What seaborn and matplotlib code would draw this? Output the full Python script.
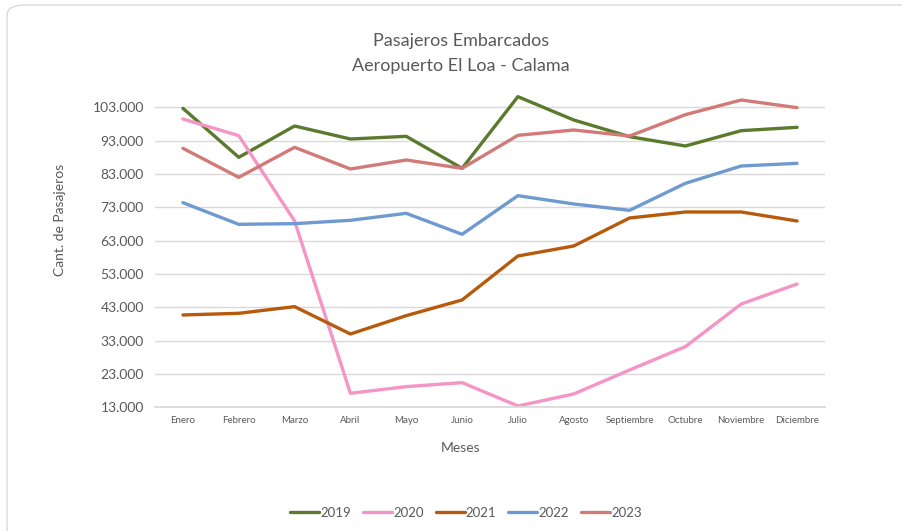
import pandas as pd
import seaborn as sns
import matplotlib.pyplot as plt
from matplotlib.patches import FancyBboxPatch
from matplotlib.ticker import FuncFormatter

# Monthly boarded passengers
meses = ['Enero', 'Febrero', 'Marzo', 'Abril', 'Mayo', 'Junio', 'Julio',
         'Agosto', 'Septiembre', 'Octubre', 'Noviembre', 'Diciembre']
y2019 = [102700, 88000, 97400, 93500, 94300, 84700, 106200, 99200, 94200, 91400, 96000, 97000]
y2020 = [99500, 94500, 68900, 17200, 19200, 20400, 13400, 17000, 24200, 31200, 44000, 50000]
y2021 = [40700, 41200, 43200, 35000, 40500, 45200, 58400, 61400, 69800, 71600, 71600, 68900]
y2022 = [74400, 67900, 68100, 69100, 71200, 64900, 76500, 74000, 72100, 80200, 85400, 86200]
y2023 = [90700, 82000, 91000, 84500, 87200, 84700, 94600, 96200, 94400, 100800, 105200, 102900]
years = ['2019', '2020', '2021', '2022', '2023']
colores = ['#5B7A2E', '#F495C5', '#B85A0B', '#6F9AD0', '#D27A78']

df = pd.DataFrame({'Mes': meses, '2019': y2019, '2020': y2020, '2021': y2021,
                   '2022': y2022, '2023': y2023})
df_long = df.melt(id_vars='Mes', var_name='Año', value_name='Pasajeros')
df_long['pos'] = df_long['Mes'].map({m: i for i, m in enumerate(meses)})

sns.set_theme(style="white")
plt.rcParams['font.family'] = ['Lato', 'DejaVu Sans']
gris = '#595959'

fig = plt.figure(figsize=(9.02, 5.31), dpi=100)
ax = fig.add_axes([155 / 902, 1 - 407.3 / 531, 670 / 902, (407.3 - 92) / 531])

sns.lineplot(data=df_long, x='pos', y='Pasajeros', hue='Año', hue_order=years,
             palette=colores, linewidth=2.4, ax=ax, legend=True, sort=False)

ax.set_xlim(-0.5, 11.5)
ax.set_ylim(13000, 107600)
ax.set_yticks(range(13000, 104000, 10000))
ax.yaxis.set_major_formatter(FuncFormatter(lambda v, p: f'{int(v):,}'.replace(',', '.')))
ax.set_xticks(range(12))
ax.set_xticklabels(meses, fontsize=7, color=gris)
ax.tick_params(axis='y', labelsize=10, colors=gris, length=0, pad=8)
ax.tick_params(axis='x', length=0, pad=6)
ax.grid(axis='y', color='#D9D9D9', linewidth=1)
ax.set_axisbelow(True)
for s in ['top', 'right', 'left']:
    ax.spines[s].set_visible(False)
ax.spines['bottom'].set_color('#D9D9D9')

ax.set_xlabel('Meses', fontsize=10, color=gris)
ax.xaxis.set_label_coords((461 - 155) / 670, -(448 - 407.3) / 315.3, transform=ax.transAxes)
ax.set_ylabel('Cant. de Pasajeros', fontsize=10, color=gris)
ax.yaxis.set_label_coords(-(155 - 60) / 670, (407.3 - 220) / 315.3)
ax.xaxis.label.set_va('center')
ax.yaxis.label.set_va('center')

fig.text(0.5 + 10 / 902, 1 - 41 / 531, 'Pasajeros Embarcados', ha='center', va='center',
         fontsize=13, color=gris)
fig.text(0.5 + 10 / 902, 1 - 66 / 531, 'Aeropuerto El Loa - Calama', ha='center', va='center',
         fontsize=13, color=gris)

handles, labels = ax.get_legend_handles_labels()
ax.legend(handles, labels, loc='center', bbox_to_anchor=(466 / 902, 1 - 513 / 531),
          bbox_transform=fig.transFigure, ncol=5, frameon=False, fontsize=9.5,
          handlelength=2.2, handletextpad=0.1, columnspacing=0.9, labelcolor=gris)

# rounded frame of the chart area (top and left edges visible)
frame = FancyBboxPatch((7 / 902, -0.2), 1.2, 1 - 5 / 531 + 0.2,
                       boxstyle='round,pad=0,rounding_size=0.02',
                       transform=fig.transFigure, fill=False,
                       edgecolor='#D9D9D9', linewidth=1, clip_on=False)
fig.patches.append(frame)

fig.savefig('out.png', dpi=100)
